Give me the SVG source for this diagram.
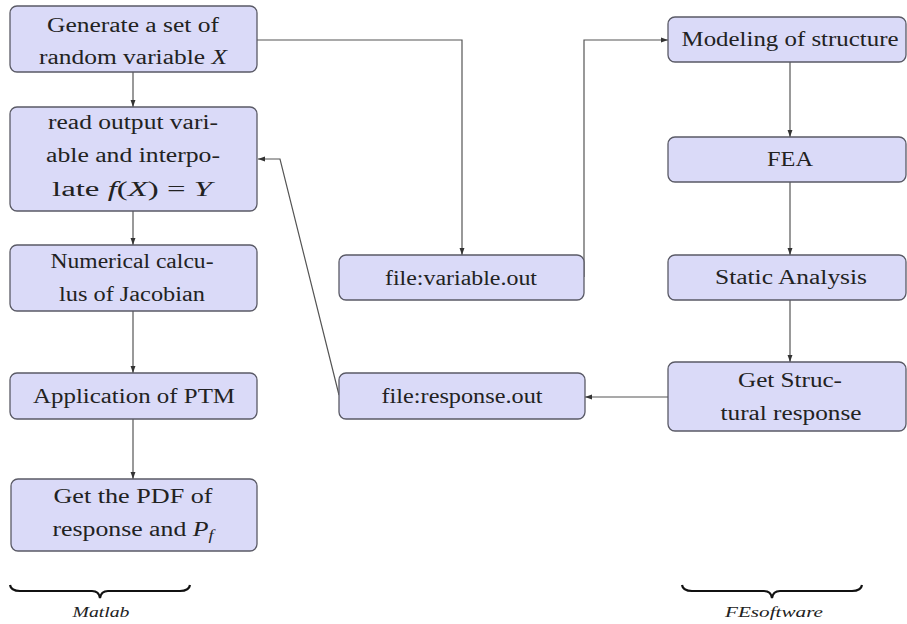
<svg xmlns="http://www.w3.org/2000/svg" width="907" height="624" viewBox="0 0 907 624">
<defs>
<marker id="ah" viewBox="0 0 10 10" refX="10" refY="5" markerWidth="7" markerHeight="7" markerUnits="userSpaceOnUse" orient="auto">
<path d="M0,1.5 L10,5 L0,8.5 Z" fill="#333"/>
</marker>
<style>
text{font-family:'Liberation Serif','DejaVu Serif','Noto Serif','Times New Roman',Times,serif}
.box{fill:#DADAF8;stroke:#5a5a66;stroke-width:1.3}
.t{font-size:20px;fill:#222;text-anchor:middle}
.m{font-style:italic}
.c{fill:none;stroke:#555;stroke-width:1.2;marker-end:url(#ah)}
.br{fill:none;stroke:#111;stroke-width:2.2}
.lbl{font-size:15px;font-style:italic;fill:#222;text-anchor:middle}
</style>
</defs>
<rect width="907" height="624" fill="#fff"/>
<g id="connectors">
<path class="c" d="M133,72 V107"/>
<path class="c" d="M133,211 V245"/>
<path class="c" d="M133,311 V373"/>
<path class="c" d="M133,419 V479"/>
<path class="c" d="M257,40 H462 V255"/>
<path class="c" d="M584,277 V40 H668"/>
<path class="c" d="M790,62 V137"/>
<path class="c" d="M790,182 V255"/>
<path class="c" d="M790,300 V362"/>
<path class="c" d="M668,397 H585"/>
<path class="c" d="M339,395 L280,159 H258"/>
</g>
<g id="gen">
<rect class="box" x="10" y="6" width="247" height="66" rx="7"/>
<text class="t" x="133" y="32" textLength="172" lengthAdjust="spacingAndGlyphs">Generate a set of</text>
<text class="t" x="133" y="64" textLength="188" lengthAdjust="spacingAndGlyphs">random variable <tspan class="m">X</tspan></text>
</g>
<g id="read">
<rect class="box" x="10" y="107" width="247" height="104" rx="7"/>
<text class="t" x="133" y="129" textLength="170" lengthAdjust="spacingAndGlyphs">read output vari-</text>
<text class="t" x="133" y="162" textLength="174" lengthAdjust="spacingAndGlyphs">able and interpo-</text>
<text class="t" x="132" y="196" textLength="160" lengthAdjust="spacingAndGlyphs">late <tspan class="m">f</tspan>(<tspan class="m">X</tspan>) = <tspan class="m">Y</tspan></text>
</g>
<g id="numerical">
<rect class="box" x="10" y="245" width="247" height="66" rx="7"/>
<text class="t" x="132" y="268" textLength="163" lengthAdjust="spacingAndGlyphs">Numerical calcu-</text>
<text class="t" x="132" y="301" textLength="146" lengthAdjust="spacingAndGlyphs">lus of Jacobian</text>
</g>
<g id="ptm">
<rect class="box" x="10" y="373" width="247" height="46" rx="7"/>
<text class="t" x="134" y="403" textLength="202" lengthAdjust="spacingAndGlyphs">Application of PTM</text>
</g>
<g id="pdf">
<rect class="box" x="11" y="479" width="246" height="72" rx="7"/>
<text class="t" x="133" y="503" textLength="159" lengthAdjust="spacingAndGlyphs">Get the PDF of</text>
<text class="t" x="133" y="536" textLength="161" lengthAdjust="spacingAndGlyphs">response and <tspan class="m">P</tspan><tspan class="m" font-size="14" dy="4">f</tspan></text>
</g>
<g id="varfile">
<rect class="box" x="339" y="255" width="245" height="45" rx="7"/>
<text class="t" x="461" y="285" textLength="152" lengthAdjust="spacingAndGlyphs">file:variable.out</text>
</g>
<g id="respfile">
<rect class="box" x="339" y="373" width="246" height="46" rx="7"/>
<text class="t" x="462" y="403" textLength="161" lengthAdjust="spacingAndGlyphs">file:response.out</text>
</g>
<g id="modeling">
<rect class="box" x="668" y="17" width="238" height="45" rx="7"/>
<text class="t" x="790" y="46" textLength="217" lengthAdjust="spacingAndGlyphs">Modeling of structure</text>
</g>
<g id="fea">
<rect class="box" x="668" y="137" width="238" height="45" rx="7"/>
<text class="t" x="790" y="166" textLength="46" lengthAdjust="spacingAndGlyphs">FEA</text>
</g>
<g id="static">
<rect class="box" x="668" y="255" width="238" height="45" rx="7"/>
<text class="t" x="791" y="284" textLength="152" lengthAdjust="spacingAndGlyphs">Static Analysis</text>
</g>
<g id="getstruct">
<rect class="box" x="668" y="362" width="238" height="69" rx="7"/>
<text class="t" x="790" y="387" textLength="104" lengthAdjust="spacingAndGlyphs">Get Struc-</text>
<text class="t" x="791" y="420" textLength="141" lengthAdjust="spacingAndGlyphs">tural response</text>
</g>
<g id="matlab">
<path class="br" d="M10,585 Q11,591 20,591 H92 Q99,591 100,598 Q101,591 108,591 H180 Q189,591 190,585"/>
<text class="lbl" x="101" y="617" textLength="57" lengthAdjust="spacingAndGlyphs">Matlab</text>
</g>
<g id="fesoftware">
<path class="br" d="M682,585 Q683,591 692,591 H764 Q771,591 772,598 Q773,591 780,591 H852 Q861,591 862,585"/>
<text class="lbl" x="774" y="617" textLength="98" lengthAdjust="spacingAndGlyphs">FEsoftware</text>
</g>
</svg>
